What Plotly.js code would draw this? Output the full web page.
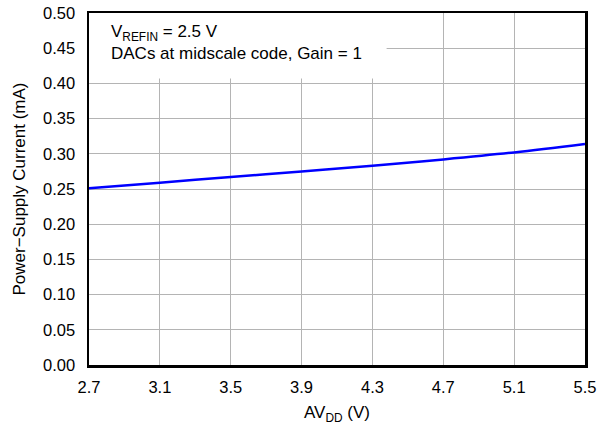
<!DOCTYPE html>
<html><head><meta charset="utf-8">
<script src="https://cdn.plot.ly/plotly-3.0.1.min.js"></script>
<style>html,body{margin:0;padding:0;background:#fff}#c{width:598px;height:428px}</style>
</head><body><div id="c"></div>
<script>
const avdd = [2.7, 3.1, 3.5, 3.9, 4.3, 4.7, 5.1, 5.5];
const current = [0.251, 0.259, 0.267, 0.275, 0.283, 0.292, 0.302, 0.314];
const xTicks = [2.7, 3.1, 3.5, 3.9, 4.3, 4.7, 5.1, 5.5];
const yTicks = [0, 0.05, 0.10, 0.15, 0.20, 0.25, 0.30, 0.35, 0.40, 0.45, 0.50];

const fam = 'Liberation Sans, Arial, sans-serif';
const font = {family: fam, size: 17, color: '#000'};
const tfont = {family: fam, size: 16.5, color: '#000'};
Plotly.newPlot('c', [{
  x: avdd, y: current, type: 'scatter', mode: 'lines',
  line: {color: '#0000ff', width: 2.5, shape: 'spline'}, hoverinfo: 'skip'
}], {
  width: 598, height: 428,
  margin: {l: 89, r: 13, t: 13, b: 63},
  paper_bgcolor: '#fff', plot_bgcolor: '#fff',
  font: font, showlegend: false,
  xaxis: {range: [2.7, 5.5], tickvals: xTicks, ticktext: xTicks.map(v => v.toFixed(1)),
    showgrid: true, gridcolor: '#b4b4b4', gridwidth: 1, zeroline: false,
    showline: true, linecolor: '#000', linewidth: 2.5, mirror: true,
    ticks: 'outside', ticklen: 6, tickcolor: 'rgba(0,0,0,0)',
    tickfont: tfont,
    title: {text: 'AV<sub>DD</sub> (V)', font: font, standoff: 11}},
  yaxis: {range: [0, 0.5], tickvals: yTicks, ticktext: yTicks.map(v => v.toFixed(2)),
    showgrid: true, gridcolor: '#b4b4b4', gridwidth: 1, zeroline: false,
    showline: true, linecolor: '#000', linewidth: 2.5, mirror: true,
    ticks: 'outside', ticklen: 8, tickcolor: 'rgba(0,0,0,0)',
    tickfont: tfont,
    title: {text: 'Power\u2212Supply Current (mA)', font: font, standoff: 13}},
  shapes: [{type: 'rect', xref: 'x', yref: 'y', x0: 2.7, x1: 4.38, y0: 0.407, y1: 0.5,
    fillcolor: '#fff', line: {width: 0}, layer: 'between'}],
  annotations: [
    {xref: 'paper', yref: 'paper', x: 0.04, y: 0.942, xanchor: 'left', yanchor: 'middle',
      align: 'left', showarrow: false, font: font,
      text: 'V<sub>REFIN</sub> = 2.5 V'},
    {xref: 'paper', yref: 'paper', x: 0.04, y: 0.884, xanchor: 'left', yanchor: 'middle',
      align: 'left', showarrow: false, font: font,
      text: 'DACs at midscale code, Gain = 1'}]
}, {staticPlot: true});
</script></body></html>
